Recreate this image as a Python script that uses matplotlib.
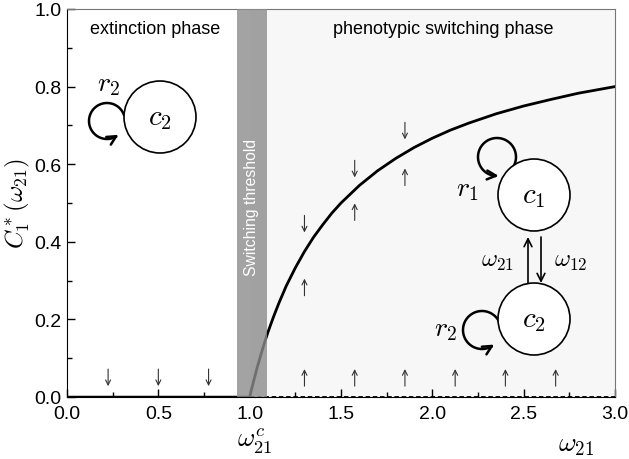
import numpy as np
import matplotlib
matplotlib.use("Agg")
import matplotlib.pyplot as plt
from matplotlib.patches import Circle

plt.rcParams['font.family'] = ['Liberation Sans', 'DejaVu Sans']
plt.rcParams['mathtext.fontset'] = 'cm'

# stable branch C1*(w21)
omega = [1.0, 1.02, 1.04, 1.06, 1.08, 1.1, 1.13, 1.16, 1.2, 1.25, 1.3, 1.35,
         1.4, 1.45, 1.5, 1.6, 1.7, 1.8, 1.9, 2.0, 2.1, 2.2, 2.35, 2.5, 2.65,
         2.8, 3.0]
c1_star = [0.0, 0.038, 0.074, 0.107, 0.138, 0.167, 0.206, 0.242, 0.286, 0.333,
           0.375, 0.412, 0.444, 0.474, 0.5, 0.545, 0.583, 0.615, 0.643, 0.667,
           0.688, 0.706, 0.730, 0.75, 0.767, 0.783, 0.8]

# extinction fixed point: stable below threshold, unstable above
stable_x = [0.0, 1.0]
unstable_x = [1.0, 3.0]

threshold_band = (0.93, 1.095)

# flow arrows
down_x = [0.225, 0.5, 0.775]
down_y = [0.05, 0.05, 0.05]
up_x = [1.3, 1.575, 1.85, 2.125, 2.4, 2.675]
up_y = [0.05, 0.05, 0.05, 0.05, 0.05, 0.05]
above_x = [1.3, 1.575, 1.85]
above_y = [0.446, 0.588, 0.686]
below_x = [1.3, 1.575, 1.85]
below_y = [0.283, 0.477, 0.567]

fig = plt.figure(figsize=(6.29, 4.6), dpi=100)
ax = fig.add_axes([67/629, 62/460, 548/629, 388/460])

ax.axvspan(1.0, 3.0, color='#f7f7f7', zorder=0, lw=0)
ax.plot(omega, c1_star, color='black', lw=2, zorder=2)
ax.plot(stable_x, [0, 0], color='black', lw=2.5, zorder=2, solid_capstyle='butt')
ax.plot(unstable_x, [0, 0], color='black', lw=1.3, ls=(0, (2.5, 1.5)), zorder=2)
ax.axvspan(*threshold_band, color='#8c8c8c', alpha=0.8, zorder=3, lw=0)
ax.text(sum(threshold_band)/2, 0.49, 'Switching threshold', rotation=90, color='white',
        ha='center', va='center', fontsize=11.3, zorder=4)

def flow(xs, ys, sign):
    for x, y in zip(xs, ys):
        ax.annotate('', xy=(x, y + sign*0.022), xytext=(x, y - sign*0.022),
                    arrowprops=dict(arrowstyle='->', lw=0.8, color='#333333',
                                    shrinkA=0, shrinkB=0, mutation_scale=9), zorder=5)

flow(down_x, down_y, -1)
flow(up_x, up_y, 1)
flow(above_x, above_y, -1)
flow(below_x, below_y, 1)

ax.text(0.48, 0.95, 'extinction phase', ha='center', va='center', fontsize=13)
ax.text(2.06, 0.95, 'phenotypic switching phase', ha='center', va='center', fontsize=13)

ax.set_xlim(0, 3)
ax.set_ylim(0, 1)
ax.set_xticks(np.arange(0, 3.01, 0.5))
ax.set_xticks(np.arange(0, 3.01, 0.25), minor=True)
ax.set_yticks(np.arange(0, 1.01, 0.2))
ax.set_yticks(np.arange(0, 1.01, 0.1), minor=True)
ax.xaxis.set_major_formatter(matplotlib.ticker.FormatStrFormatter('%.1f'))
ax.yaxis.set_major_formatter(matplotlib.ticker.FormatStrFormatter('%.1f'))
ax.tick_params(which='both', direction='in', top=False, right=False, labelsize=14)
ax.tick_params(which='major', length=6, width=1)
ax.tick_params(which='minor', length=3.5, width=1)
ax.tick_params(axis='x', which='major', pad=6)
ax.tick_params(axis='y', which='major', pad=4)
ax.spines['top'].set_color('#777777')
ax.spines['right'].set_color('#777777')
ax.text(-0.27, 0.5, r'$C_1^*(\omega_{21})$', rotation=90, ha='center', va='center',
        fontsize=18, clip_on=False)
ax.text(1.03, -0.113, r'$\omega_{21}^c$', ha='center', va='center', fontsize=19,
        clip_on=False)
ax.text(2.786, -0.12, r'$\omega_{21}$', ha='center', va='center', fontsize=19.5,
        clip_on=False)

# state diagrams drawn in pixel coords on an overlay
ov = fig.add_axes([0, 0, 1, 1], zorder=10)
ov.set_xlim(0, 629)
ov.set_ylim(460, 0)
ov.axis('off')
ov.patch.set_alpha(0)

def node(cx, cy, label):
    ov.add_patch(Circle((cx, cy), 36, facecolor='white', edgecolor='black', lw=1.2, zorder=3))
    ov.text(cx, cy, label, ha='center', va='center', fontsize=21, zorder=4)

def loop(cx, cy, r, a0, a1):
    t = np.radians(np.linspace(a0, a1, 80))
    xs = cx + r*np.cos(t)
    ys = cy - r*np.sin(t)
    ov.plot(xs[:-3], ys[:-3], color='black', lw=1.8, zorder=2)
    ov.annotate('', xy=(xs[-1], ys[-1]), xytext=(xs[-6], ys[-6]),
                arrowprops=dict(arrowstyle='->', lw=1.8, color='black',
                                shrinkA=0, shrinkB=0, mutation_scale=16), zorder=2)

node(160, 118, r'$c_2$')
loop(107, 122, 18, 20, 310)
ov.text(109, 85, r'$r_2$', ha='center', va='center', fontsize=20)

node(534, 196, r'$c_1$')
loop(497, 158, 19, -30, 275)
ov.text(467, 190, r'$r_1$', ha='center', va='center', fontsize=20)

node(534, 320, r'$c_2$')
loop(482, 331, 19, 20, 310)
ov.text(446, 330, r'$r_2$', ha='center', va='center', fontsize=20)

ov.annotate('', xy=(528, 238), xytext=(528, 284),
            arrowprops=dict(arrowstyle='->', lw=1.2, color='black', shrinkA=0, shrinkB=0,
                            mutation_scale=14))
ov.annotate('', xy=(541, 284), xytext=(541, 238),
            arrowprops=dict(arrowstyle='->', lw=1.2, color='black', shrinkA=0, shrinkB=0,
                            mutation_scale=14))
ov.text(497, 262, r'$\omega_{21}$', ha='center', va='center', fontsize=17.5)
ov.text(571, 262, r'$\omega_{12}$', ha='center', va='center', fontsize=17.5)

fig.savefig('out.png', dpi=100)
